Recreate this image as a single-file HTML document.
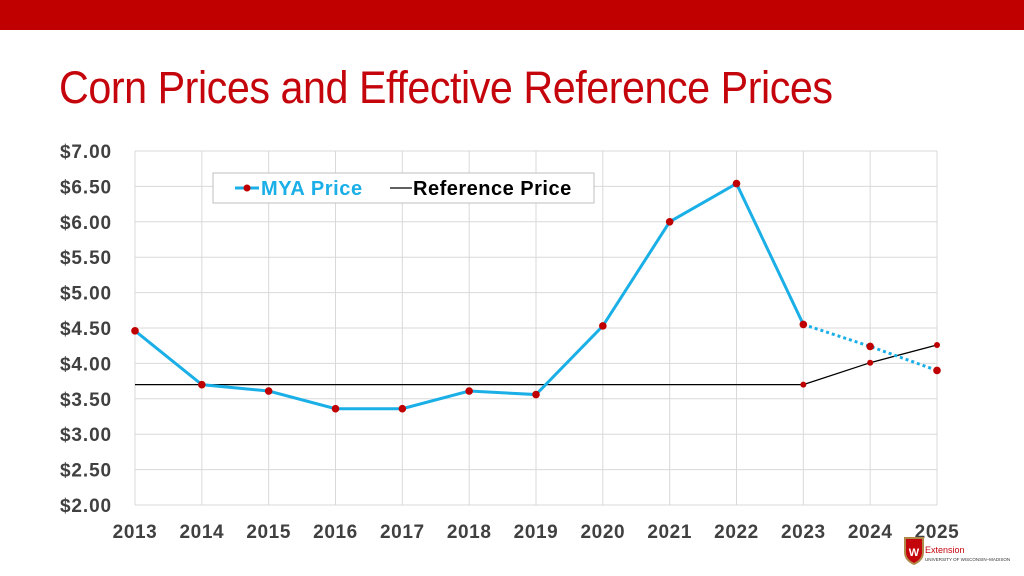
<!DOCTYPE html>
<html><head><meta charset="utf-8"><style>
body{margin:0;width:1024px;height:576px;background:#fff;overflow:hidden;font-family:"Liberation Sans",sans-serif;position:relative}
#band{position:absolute;left:0;top:0;width:1024px;height:30px;background:#c00000}
#title{position:absolute;left:59px;top:62px;font-size:45px;color:#c5050c;letter-spacing:-0.5px;white-space:nowrap;transform:scaleX(0.917);transform-origin:0 0}
</style></head><body>
<div id="band"></div>
<div id="title">Corn Prices and Effective Reference Prices</div>
<svg id="chart" width="1024" height="576" style="position:absolute;left:0;top:0"></svg>
<script>
const years=[2013,2014,2015,2016,2017,2018,2019,2020,2021,2022,2023,2024,2025];
const mya=[4.46,3.70,3.61,3.36,3.36,3.61,3.56,4.53,6.00,6.54,4.55,4.24,3.90];
const ref=[3.70,3.70,3.70,3.70,3.70,3.70,3.70,3.70,3.70,3.70,3.70,4.01,4.26];
const yTicks=[2,2.5,3,3.5,4,4.5,5,5.5,6,6.5,7];
const projectedFrom=10;
const NS="http://www.w3.org/2000/svg";
const svg=document.getElementById('chart');
const x0=135,x1=937,yTop=151,yBot=505;
const X=i=>x0+i*(x1-x0)/(years.length-1);
const Y=v=>yBot-(v-2)/(7-2)*(yBot-yTop);
function mk(t,a){const e=document.createElementNS(NS,t);for(const k in a)e.setAttribute(k,a[k]);svg.appendChild(e);return e;}
yTicks.forEach(v=>{
 const g=mk('line',{x1:x0,x2:x1,y1:Y(v),y2:Y(v),stroke:'#d9d9d9','stroke-width':1});
 
 
 const t=mk('text',{x:112,y:Y(v)+7,'text-anchor':'end','font-size':19,'font-weight':'bold',fill:'#404040','letter-spacing':0.9});
 t.textContent='$'+v.toFixed(2);
 
 
});
years.forEach((yr,i)=>{
 const g=mk('line',{x1:X(i),x2:X(i),y1:yTop,y2:yBot,stroke:'#d9d9d9','stroke-width':1});
 
 
 const t=mk('text',{x:X(i),y:538,'text-anchor':'middle','font-size':19,'font-weight':'bold',fill:'#404040','letter-spacing':0.6});
 t.textContent=yr;
 
 
});
const rl=mk('polyline',{points:ref.map((v,i)=>X(i)+','+Y(v)).join(' '),fill:'none',stroke:'#000','stroke-width':1.3});


for(let i=projectedFrom;i<ref.length;i++){const c=mk('circle',{cx:X(i),cy:Y(ref[i]),r:3,fill:'#c00000'});
 
 }
const ml=mk('polyline',{points:mya.slice(0,projectedFrom+1).map((v,i)=>X(i)+','+Y(v)).join(' '),fill:'none',stroke:'#1aafe6','stroke-width':3});


const md=mk('polyline',{points:mya.slice(projectedFrom).map((v,k)=>X(k+projectedFrom)+','+Y(v)).join(' '),fill:'none',stroke:'#1aafe6','stroke-width':3,'stroke-dasharray':'3,3'});


mya.forEach((v,i)=>{const c=mk('circle',{cx:X(i),cy:Y(v),r:3.8,fill:'#c00000'});
 
 });
const lb=mk('rect',{x:213,y:173,width:381,height:30,fill:'#fff',stroke:'#bfbfbf'});


mk('line',{x1:235,x2:259,y1:188,y2:188,stroke:'#1aafe6','stroke-width':3});
mk('circle',{cx:247,cy:188,r:3.5,fill:'#c00000'});
const t1=mk('text',{x:261,y:195,'font-size':20,'font-weight':'bold',fill:'#1aafe6','letter-spacing':0.6});t1.textContent='MYA Price';


mk('line',{x1:390,x2:412,y1:188,y2:188,stroke:'#000','stroke-width':1.3});
const t2=mk('text',{x:413,y:195,'font-size':20,'font-weight':'bold',fill:'#000','letter-spacing':0.5});t2.textContent='Reference Price';


const sh=mk('path',{d:'M905 538 h18 v14 q0 8 -9 12 q-9 -4 -9 -12 z',fill:'#c5050c',stroke:'#b08a4a','stroke-width':2});


const w=mk('text',{x:914,y:556,'text-anchor':'middle','font-size':11,'font-weight':'bold',fill:'#fff'});w.textContent='W';
const e1=mk('text',{x:925,y:553,'font-size':9,fill:'#c5050c'});e1.textContent='Extension';


const e2=mk('text',{x:925,y:561,'font-size':4.5,fill:'#333'});e2.textContent='UNIVERSITY OF WISCONSIN–MADISON';
</script>
</body></html>
